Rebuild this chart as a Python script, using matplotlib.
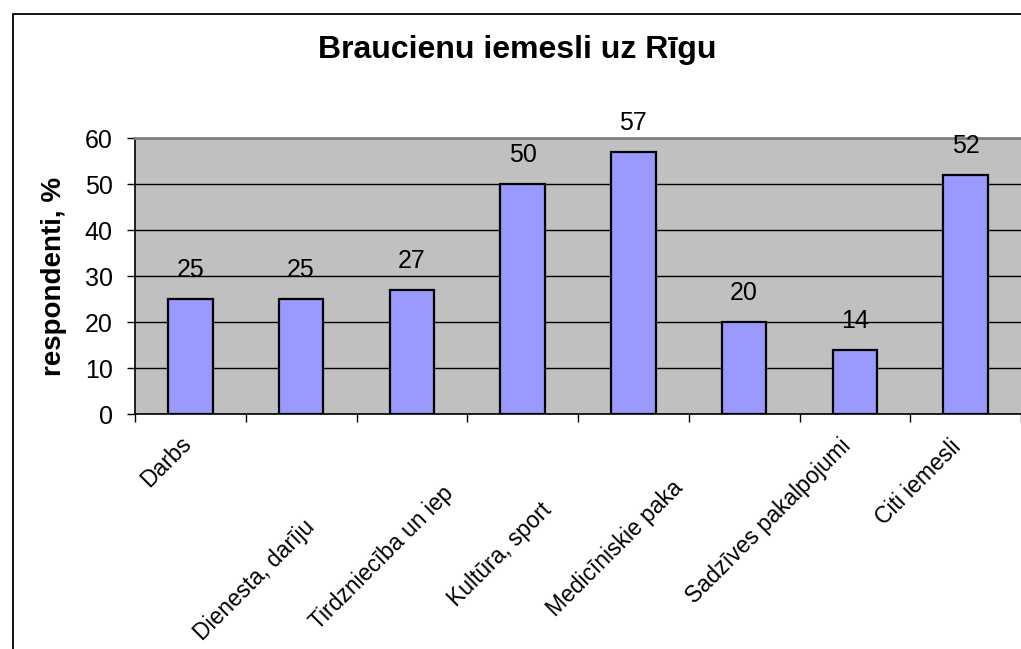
import matplotlib.pyplot as plt
from matplotlib.patches import Rectangle

plt.rcParams['font.family'] = ['Liberation Sans', 'DejaVu Sans']

# dati
kategorijas = ['Darbs', 'Dienesta, darīju', 'Tirdzniecība un iep', 'Kultūra, sport',
               'Medicīniskie paka', '', 'Sadzīves pakalpojumi', 'Citi iemesli']
vertibas = [25, 25, 27, 50, 57, 20, 14, 52]
y_ticki = [0, 10, 20, 30, 40, 50, 60]

# Excel nogrieztie paraksti atrodas zemāk (nobīde pikseļos)
nobides = [(-3, 0), (10, -84), (38, -50), (25, -67), (46, -44), (0, 0), (-8, -2), (-8, -3)]

fig = plt.figure(figsize=(10.21, 6.49), dpi=100)
ax = fig.add_axes([135 / 1021, 235 / 649, 886 / 1021, 276 / 649])

# ārējais rāmis
fig.patches.append(Rectangle((13 / 1021, -0.1), 1.2, 1 - 14 / 649 + 0.1,
                             transform=fig.transFigure, fill=False,
                             edgecolor='black', linewidth=1.3))

ax.set_facecolor('#C0C0C0')
x = range(len(vertibas))
ax.bar(x, vertibas, width=0.4, color='#9999FF', edgecolor='black', linewidth=1.6, zorder=3)

for i, v in enumerate(vertibas):
    ax.annotate(str(v), (i, v), xytext=(0, 12), textcoords='offset points',
                ha='center', va='bottom', fontsize=18)

ax.set_xlim(-0.5, len(vertibas) - 0.5)
ax.set_ylim(0, 60)
ax.set_yticks(y_ticki)
ax.tick_params(axis='y', labelsize=18, length=6, width=1, direction='out', pad=10)
ax.yaxis.grid(True, color='black', linewidth=1)
ax.set_axisbelow(True)

# x ass: ķeksīši starp kategorijām
ax.set_xticks([])
ax.set_xticks([i + 0.5 for i in range(-1, len(vertibas))], minor=True)
ax.tick_params(axis='x', which='minor', length=6, width=1, direction='out')

ax.spines['right'].set_visible(False)
ax.spines['top'].set_color('#808080')
ax.spines['top'].set_linewidth(2)
ax.spines['left'].set_linewidth(1.2)
ax.spines['bottom'].set_linewidth(1.2)

for i, (lab, (dx, dy)) in enumerate(zip(kategorijas, nobides)):
    ax.annotate(lab, (i, 0), xytext=(dx * 0.72, (-26 + dy) * 0.72),
                textcoords='offset points', rotation=45, rotation_mode='anchor',
                ha='right', va='center', fontsize=16.5)

ax.set_ylabel('respondenti, %', fontsize=20, fontweight='bold')
ax.yaxis.set_label_coords(-68 / 886, 0.5)

fig.text(517 / 1021, 1 - 50 / 649, 'Braucienu iemesli uz Rīgu', ha='center', va='center',
         fontsize=23, fontweight='bold')

fig.savefig('out.png', dpi=100)
